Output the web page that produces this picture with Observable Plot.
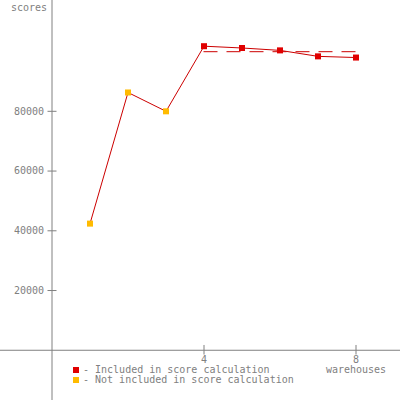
<!DOCTYPE html>
<html>
<head>
<meta charset="utf-8">
<script src="https://cdn.jsdelivr.net/npm/d3@7"></script>
<script src="https://cdn.jsdelivr.net/npm/@observablehq/plot@0.6"></script>
<style>
  html, body { margin: 0; padding: 0; background: #fff; }
  #wrap { position: relative; width: 400px; height: 400px; overflow: hidden; }
  #legend { position: absolute; left: 73px; top: 365px; font: 10px "DejaVu Sans Mono", monospace; color: #808080; line-height: 10px; }
  #legend div { display: flex; align-items: center; white-space: pre; }
  #legend span.sw { display: inline-block; width: 6px; height: 6px; margin-right: 4px; }
</style>
</head>
<body>
<div id="wrap">
  <div id="chart"></div>
  <div id="legend"></div>
</div>
<script>
const warehouses = [1, 2, 3, 4, 5, 6, 7, 8];
const scores = [42400, 86300, 80000, 101800, 101200, 100400, 98400, 98000];
const included = [false, false, false, true, true, true, true, true];
const scoreValue = 99960;
const scoreRange = [4, 8];
const xTicks = [4, 8];
const yTicks = [20000, 40000, 60000, 80000];
const legendItems = ["Included in score calculation", "Not included in score calculation"];
const colIncluded = "#e00000";
const colExcluded = "#ffbb00";
const lineColor = "#cc0000";
const axisColor = "#808080";

const data = warehouses.map((w, i) => ({w, s: scores[i], inc: included[i]}));

const xDomain = [-51.5 / 38, 348.5 / 38];
const yDomain = [-16820, 117100];
const font = "DejaVu Sans Mono";

const chart = Plot.plot({
  width: 400,
  height: 400,
  margin: 0,
  style: {fontFamily: font, fontSize: "10px", background: "#fff"},
  x: {domain: xDomain, axis: null},
  y: {domain: yDomain, axis: null},
  marks: [
    Plot.ruleX([0], {y1: yDomain[0], y2: yDomain[1], stroke: axisColor}),
    Plot.ruleY([0], {x1: xDomain[0], x2: xDomain[1], stroke: axisColor}),
    Plot.ruleY(yTicks, {x1: -4 / 38, x2: 5 / 38, stroke: axisColor}),
    Plot.text(yTicks, {x: 0, y: d => d, text: d => String(d), dx: -8, textAnchor: "end", fill: axisColor}),
    Plot.ruleX(xTicks, {y1: -1600, y2: 1600, stroke: axisColor}),
    Plot.text(xTicks, {x: d => d, y: 0, text: d => String(d), dy: 10, fill: axisColor}),
    Plot.text(["warehouses"], {x: 8, y: 0, text: d => d, dy: 20, fill: axisColor}),
    Plot.text(["scores"], {x: 0, y: yDomain[1], text: d => d, dx: -5, dy: 7, textAnchor: "end", fill: axisColor}),
    Plot.ruleY([scoreValue], {x1: scoreRange[0], x2: scoreRange[1], stroke: lineColor, strokeDasharray: "14,9"}),
    Plot.line(data, {x: "w", y: "s", stroke: lineColor, strokeWidth: 1}),
    Plot.dot(data, {x: "w", y: "s", symbol: "square", r: 3.4, fill: d => d.inc ? colIncluded : colExcluded, stroke: "none"})
  ]
});
document.getElementById("chart").appendChild(chart);

const leg = document.getElementById("legend");
legendItems.forEach((t, i) => {
  const row = document.createElement("div");
  const sw = document.createElement("span");
  sw.className = "sw";
  sw.style.background = i === 0 ? colIncluded : colExcluded;
  row.appendChild(sw);
  row.appendChild(document.createTextNode("- " + t));
  leg.appendChild(row);
});
</script>
</body>
</html>
